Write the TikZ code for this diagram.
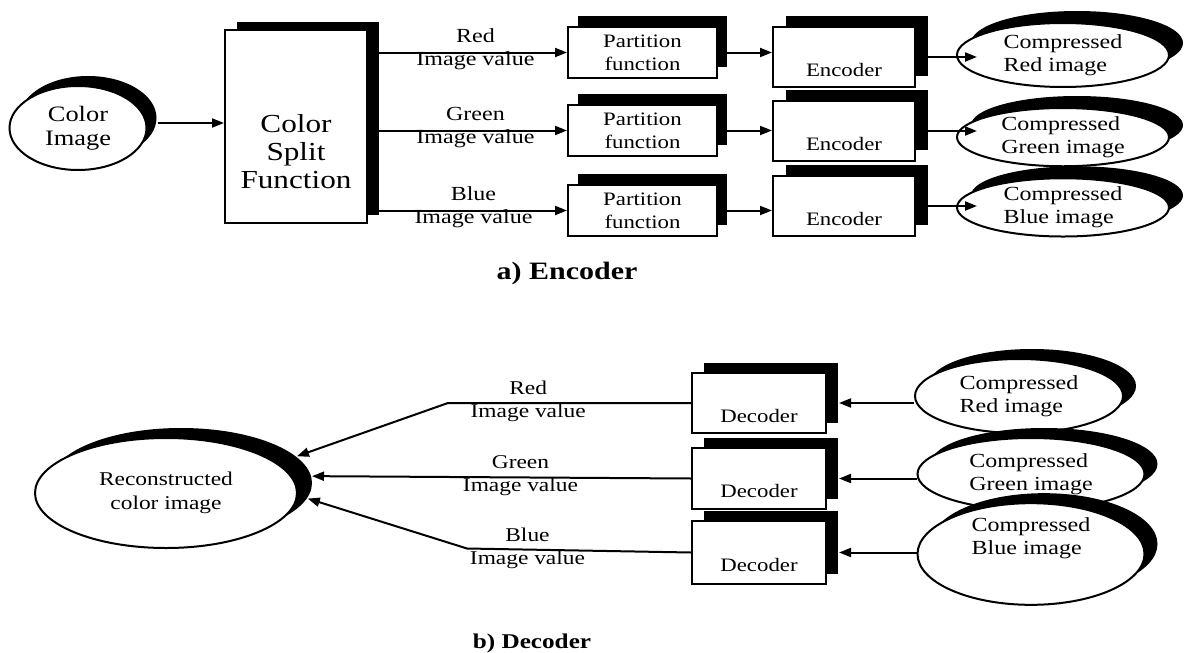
\documentclass[tikz,border=0pt]{standalone}
\usepackage{fontspec}
\setmainfont[FakeStretch=1.2]{Liberation Serif}
\usetikzlibrary{positioning, arrows.meta, calc, shapes.geometric, shadows}

\newcommand{\fsz}[2]{\fontsize{#1pt}{#2pt}\selectfont}

\begin{document}
\begin{tikzpicture}[x=1pt, y=-1pt,
  box/.style={draw=black, fill=white, line width=2pt, rectangle, align=center, inner sep=0pt},
  oval/.style={draw=black, fill=white, line width=2pt, ellipse, align=center, inner sep=0pt},
  shd/.style 2 args={drop shadow={shadow xshift=#1, shadow yshift=#2, fill=black, opacity=1}},
  arr/.style={-{Triangle[length=12pt, width=9pt]}, line width=2pt},
  lbl/.style={align=center, inner sep=0pt, font=\fsz{20}{23}, yshift=3pt},
  dlbl/.style={align=center, inner sep=0pt, font=\fsz{19.5}{23}, yshift=1.5pt}
]
\useasboundingbox (0,0) rectangle (1186,653);

% a) encoder
\node[oval, shd={10pt}{10pt}, minimum width=137pt, minimum height=84pt, font=\fsz{22}{24}]
  (cimg) at (78,128) {Color\\Image};
\node[box, shd={12pt}{8pt}, minimum width=142pt, minimum height=193pt, font=\fsz{26}{28}]
  (split) at (296,126.5) {\strut\\[20pt]Color\\Split\\Function};

\node[box, shd={10pt}{11pt}, minimum width=149pt, minimum height=51pt, font=\fsz{19}{23}]
  (part1) at (642.5,52.5) {Partition\\function};
\node[box, shd={10pt}{11pt}, minimum width=149pt, minimum height=51pt, font=\fsz{19}{23},
  below=25pt of part1] (part2) {Partition\\function};
\node[box, shd={10pt}{11pt}, minimum width=149pt, minimum height=51pt, font=\fsz{19}{23},
  below=27pt of part2] (part3) {Partition\\function};

\node[box, shd={13pt}{11pt}, minimum width=142pt, minimum height=60pt, font=\fsz{19}{23}]
  (enc1) at (844,57) {\strut\\Encoder};
\node[box, shd={13pt}{11pt}, minimum width=142pt, minimum height=60pt, font=\fsz{19}{23},
  below=12pt of enc1] (enc2) {\strut\\Encoder};
\node[box, shd={13pt}{11pt}, minimum width=142pt, minimum height=60pt, font=\fsz{19}{23},
  below=13pt of enc2] (enc3) {\strut\\Encoder};

\node[oval, shd={14pt}{12pt}, minimum width=212pt, minimum height=64pt, font=\fsz{20}{23}, align=left]
  (cmp1) at (1063,55) {Compressed\\Red image};
\node[oval, shd={14pt}{12pt}, minimum width=212pt, minimum height=58pt, font=\fsz{20}{23}, align=left,
  below=19pt of cmp1] (cmp2) {Compressed\\Green image};
\node[oval, shd={14pt}{12pt}, minimum width=212pt, minimum height=58pt, font=\fsz{20}{23}, align=left,
  below=10pt of cmp2] (cmp3) {Compressed\\Blue image};

\node[font=\bfseries\fsz{25}{28}] (capa) at (567,273) {a) Encoder};

\coordinate (ci-out) at ($(cimg.east)+(10,-5)$);
\draw[arr] (ci-out) -- (ci-out -| split.west);

\draw[arr] (split.east |- part1.west) -- node[lbl, pos=0.54] {Red\\Image value} (part1.west);
\draw[arr] (split.east |- part2.west) -- node[lbl, pos=0.54] {Green\\Image value} (part2.west);
\draw[arr] (split.east |- part3.west) -- node[lbl, pos=0.53] {Blue\\Image value} (part3.west);

\draw[arr] (part1.east) -- (part1.east -| enc1.west);
\draw[arr] (part2.east) -- (part2.east -| enc2.west);
\draw[arr] (part3.east) -- (part3.east -| enc3.west);

\draw[arr] (enc1.east) -- ($(enc1.east -| cmp1.west)+(21,0)$);
\draw[arr] (enc2.east) -- ($(enc2.east -| cmp2.west)+(21,0)$);
\draw[arr] (enc3.east) -- ($(enc3.east -| cmp3.west)+(21,0)$);

% b) decoder
\node[oval, shd={15pt}{10pt}, minimum width=262pt, minimum height=110pt, font=\fsz{19.5}{24}]
  (recon) at (166,493) {Reconstructed\\color image};

\node[box, shd={12pt}{10pt}, minimum width=134pt, minimum height=60pt, font=\fsz{19}{23}]
  (dec1) at (759,403) {\strut\\Decoder};
\node[box, shd={12pt}{10pt}, minimum width=134pt, minimum height=61pt, font=\fsz{19}{23},
  below=13pt of dec1] (dec2) {\strut\\Decoder};
\node[box, shd={12pt}{10pt}, minimum width=134pt, minimum height=63pt, font=\fsz{19}{23},
  below=10pt of dec2] (dec3) {\strut\\Decoder};

\node[oval, shd={13pt}{10pt}, minimum width=208pt, minimum height=74pt, font=\fsz{20}{23}, align=left]
  (cmpd1) at (1019,396) {Compressed\\Red image};
\node[oval, shd={13pt}{10pt}, minimum width=227pt, minimum height=72pt, font=\fsz{20}{23}, align=left]
  (cmpd2) at (1031,474) {Compressed\\Green image};
\node[oval, shd={13pt}{10pt}, minimum width=227pt, minimum height=92pt, font=\fsz{20}{23}, align=left]
  (cmpd3) at (1031,554) {Compressed\\Blue image\\[12pt]};

\node[font=\bfseries\fsz{21}{24}] (capb) at (532,643) {b) Decoder};

\draw[arr] (cmpd1.west |- dec1.east) -- ($(dec1.east)+(12,0)$);
\draw[arr] (cmpd2.west |- dec2.east) -- ($(dec2.east)+(12,0)$);
\draw[arr] (cmpd3.west |- dec3.east) -- ($(dec3.east)+(12,0)$);

\coordinate (rbend) at (448,403);
\coordinate (bbend) at (467,548.5);
\draw[arr] (dec1.west) -- node[dlbl, pos=0.67] {Red\\Image value} (rbend)
  -- ($(recon.13)+(15,-10)$);
\draw[arr] (dec2.west) -- node[dlbl, pos=0.45] {Green\\Image value} ($(recon.3)+(15,-10)$);
\draw[arr] (dec3.west) -- node[dlbl, pos=0.73] {Blue\\Image value} (bbend)
  -- ($(recon.353)+(15,-10)$);

\end{tikzpicture}
\end{document}
